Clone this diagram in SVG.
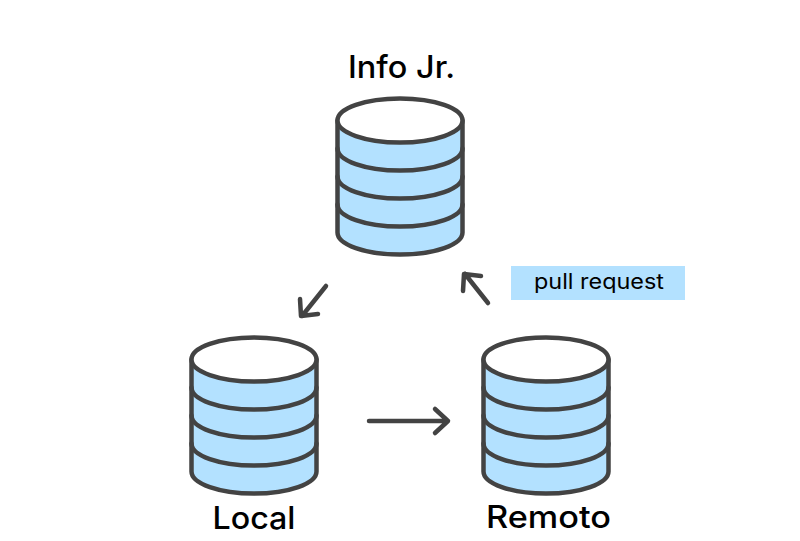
<svg xmlns="http://www.w3.org/2000/svg" width="800" height="541" viewBox="0 0 800 541">
<style>
.s{stroke:#434343;stroke-width:4.500;stroke-linecap:round;stroke-linejoin:round}
.c{fill:none}
.b{fill:#b3e1ff}
.t{fill:#000;font-family:"Inter","Noto Sans",sans-serif;font-weight:500;text-anchor:middle}
.l{font-size:31px}
.p{font-size:21px;font-weight:400}
</style>
<defs>
<g id="cyl">
<path class="s b" d="M-62.500 0V112C-62.500 124.200 -34.500 134 0 134C34.500 134 62.500 124.200 62.500 112V0Z"/>
<path class="s c" d="M-62.500 28C-62.500 40.200 -34.500 50 0 50C34.500 50 62.500 40.200 62.500 28"/>
<path class="s c" d="M-62.500 56C-62.500 68.200 -34.500 78 0 78C34.500 78 62.500 68.200 62.500 56"/>
<path class="s c" d="M-62.500 84C-62.500 96.200 -34.500 106 0 106C34.500 106 62.500 96.200 62.500 84"/>
<ellipse class="s" fill="#fff" cx="0" cy="0" rx="62.500" ry="22"/>
</g>
</defs>
<rect width="800" height="541" fill="#fff"/>
<g id="info-jr"><use href="#cyl" x="400" y="120.500"/><text class="t l" x="401.500" y="78" textLength="107" lengthAdjust="spacingAndGlyphs">Info Jr.</text></g>
<g id="local"><use href="#cyl" x="254" y="359.500"/><text class="t l" x="254" y="529" textLength="83" lengthAdjust="spacingAndGlyphs">Local</text></g>
<g id="remoto"><use href="#cyl" x="546" y="359.500"/><text class="t l" x="548.500" y="528" textLength="125" lengthAdjust="spacingAndGlyphs">Remoto</text></g>
<g id="pull-request"><rect class="b" x="511" y="266" width="174" height="34"/><text class="t p" x="599" y="289" textLength="130" lengthAdjust="spacingAndGlyphs">pull request</text></g>
<g id="connectors">
<path class="s c" d="M326 286L302 316M300 299L301 316L318 314"/>
<path class="s c" d="M488 303L465 274M463 291L464 274L481 276"/>
<path class="s c" d="M369 421H448M435 409L448 421L435 433"/>
</g>
</svg>
